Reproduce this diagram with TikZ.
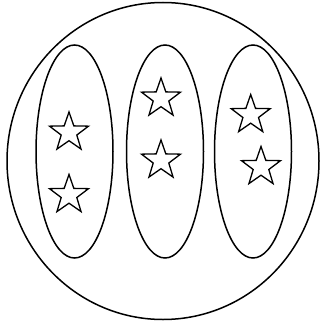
\documentclass[tikz,border=0pt]{standalone}
\usetikzlibrary{shapes.geometric}
\begin{document}
\begin{tikzpicture}[x=1pt,y=-1pt,
  lw/.style={line width=1.5pt},
  outer/.style={draw,lw,ellipse,inner sep=0pt,minimum width=312pt,minimum height=317pt},
  group/.style={draw,lw,ellipse,inner sep=0pt,minimum width=77pt,minimum height=213pt},
  starnode/.style={draw,line width=1.3pt,star,star points=5,star point ratio=2.5,inner sep=0pt,minimum size=41pt}]
\useasboundingbox (0,0) rectangle (320,324);
\node[outer] (big) at (163,161) {};
\node[group] (g1) at (74.5,151.5) {};
\node[group] (g2) at (165,151.5) {};
\node[group] (g3) at (253,151.5) {};
\node[starnode] (s1) at (69,132.5) {};
\node[starnode] (s2) at (69,195) {};
\node[starnode] (s3) at (161,98.5) {};
\node[starnode] (s4) at (161,160.5) {};
\node[starnode] (s5) at (250.7,115) {};
\node[starnode] (s6) at (261,167) {};
\end{tikzpicture}
\end{document}
